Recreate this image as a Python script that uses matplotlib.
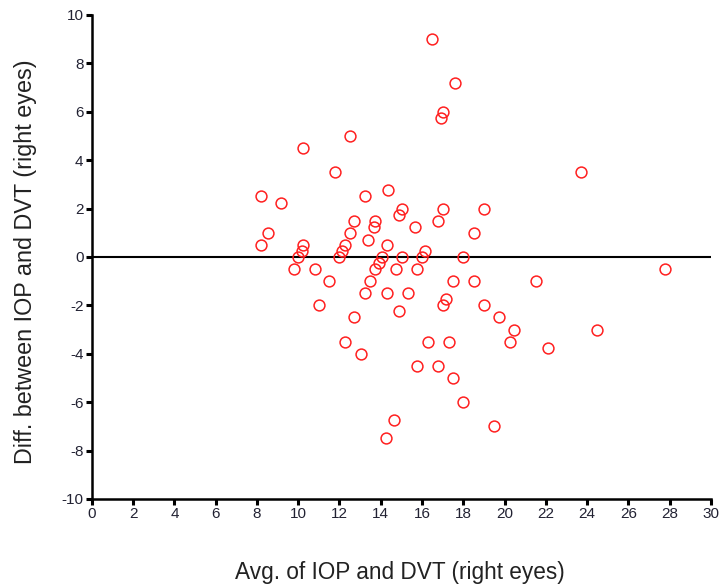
import matplotlib.pyplot as plt

plt.rcParams["font.family"] = ["Liberation Sans", "DejaVu Sans"]
plt.rcParams["axes.unicode_minus"] = False

# Bland-Altman style data (right eyes): average vs difference
avg = [16.5, 17.6, 17.0, 16.9, 12.5, 10.25, 11.8, 14.35, 8.2, 13.25,
       9.15, 15.05, 14.9, 17.0, 19.0, 16.75, 12.7, 13.7, 13.65, 15.65,
       18.5, 8.55, 12.5, 8.2, 10.25, 12.25, 13.4, 14.3, 10.2, 12.1,
       16.15, 10.0, 12.0, 14.05, 15.05, 16.0, 18.0, 13.9, 13.7, 9.8,
       10.8, 14.75, 15.75, 11.5, 13.5, 17.5, 18.5, 13.25, 14.3, 15.3,
       17.15, 17.0, 11.0, 19.0, 14.9, 12.7, 19.75, 23.7, 27.75, 21.5,
       20.45, 24.5, 20.25, 22.1, 12.25, 13.05, 16.3, 17.3, 15.75, 16.75,
       17.5, 18.0, 14.65, 19.5, 14.25]
diff = [9.0, 7.2, 6.0, 5.75, 5.0, 4.5, 3.5, 2.75, 2.5, 2.5,
        2.25, 2.0, 1.75, 2.0, 2.0, 1.5, 1.5, 1.5, 1.25, 1.25,
        1.0, 1.0, 1.0, 0.5, 0.5, 0.5, 0.7, 0.5, 0.25, 0.25,
        0.25, 0.0, 0.0, 0.0, 0.0, 0.0, 0.0, -0.25, -0.5, -0.5,
        -0.5, -0.5, -0.5, -1.0, -1.0, -1.0, -1.0, -1.5, -1.5, -1.5,
        -1.75, -2.0, -2.0, -2.0, -2.25, -2.5, -2.5, 3.5, -0.5, -1.0,
        -3.0, -3.0, -3.5, -3.75, -3.5, -4.0, -3.5, -3.5, -4.5, -4.5,
        -5.0, -6.0, -6.75, -7.0, -7.5]

xticks = list(range(0, 31, 2))
yticks = list(range(-10, 11, 2))

fig = plt.figure(figsize=(7.23, 5.86), dpi=100)
ax = fig.add_axes([0.127, 0.1485, 0.8564, 0.826])

ax.axhline(0, color="black", linewidth=1.5, zorder=1)
ax.plot(avg, diff, linestyle="none", marker="o", markersize=7.8,
        markerfacecolor="none", markeredgecolor="#ff2020",
        markeredgewidth=1.1, zorder=2)

ax.set_xlim(0, 30)
ax.set_ylim(-10, 10)
ax.set_xticks(xticks)
ax.set_yticks(yticks)

for side in ["top", "right"]:
    ax.spines[side].set_visible(False)
for side in ["left", "bottom"]:
    ax.spines[side].set_linewidth(1.8)
ax.tick_params(direction="out", length=4, width=2.2, labelsize=11,
               pad=2, colors="black", labelcolor="#222233")

ax.set_xlabel("Avg. of IOP and DVT (right eyes)", fontsize=16.3, color="#222222")
ax.set_ylabel("Diff. between IOP and DVT (right eyes)", fontsize=16.8, color="#222222")
ax.xaxis.label.set_va("center")
ax.yaxis.label.set_va("center")
ax.xaxis.set_label_coords(0.4976, -0.151)
ax.yaxis.set_label_coords(-0.1066, 0.49)

fig.savefig("out.png", dpi=100)
